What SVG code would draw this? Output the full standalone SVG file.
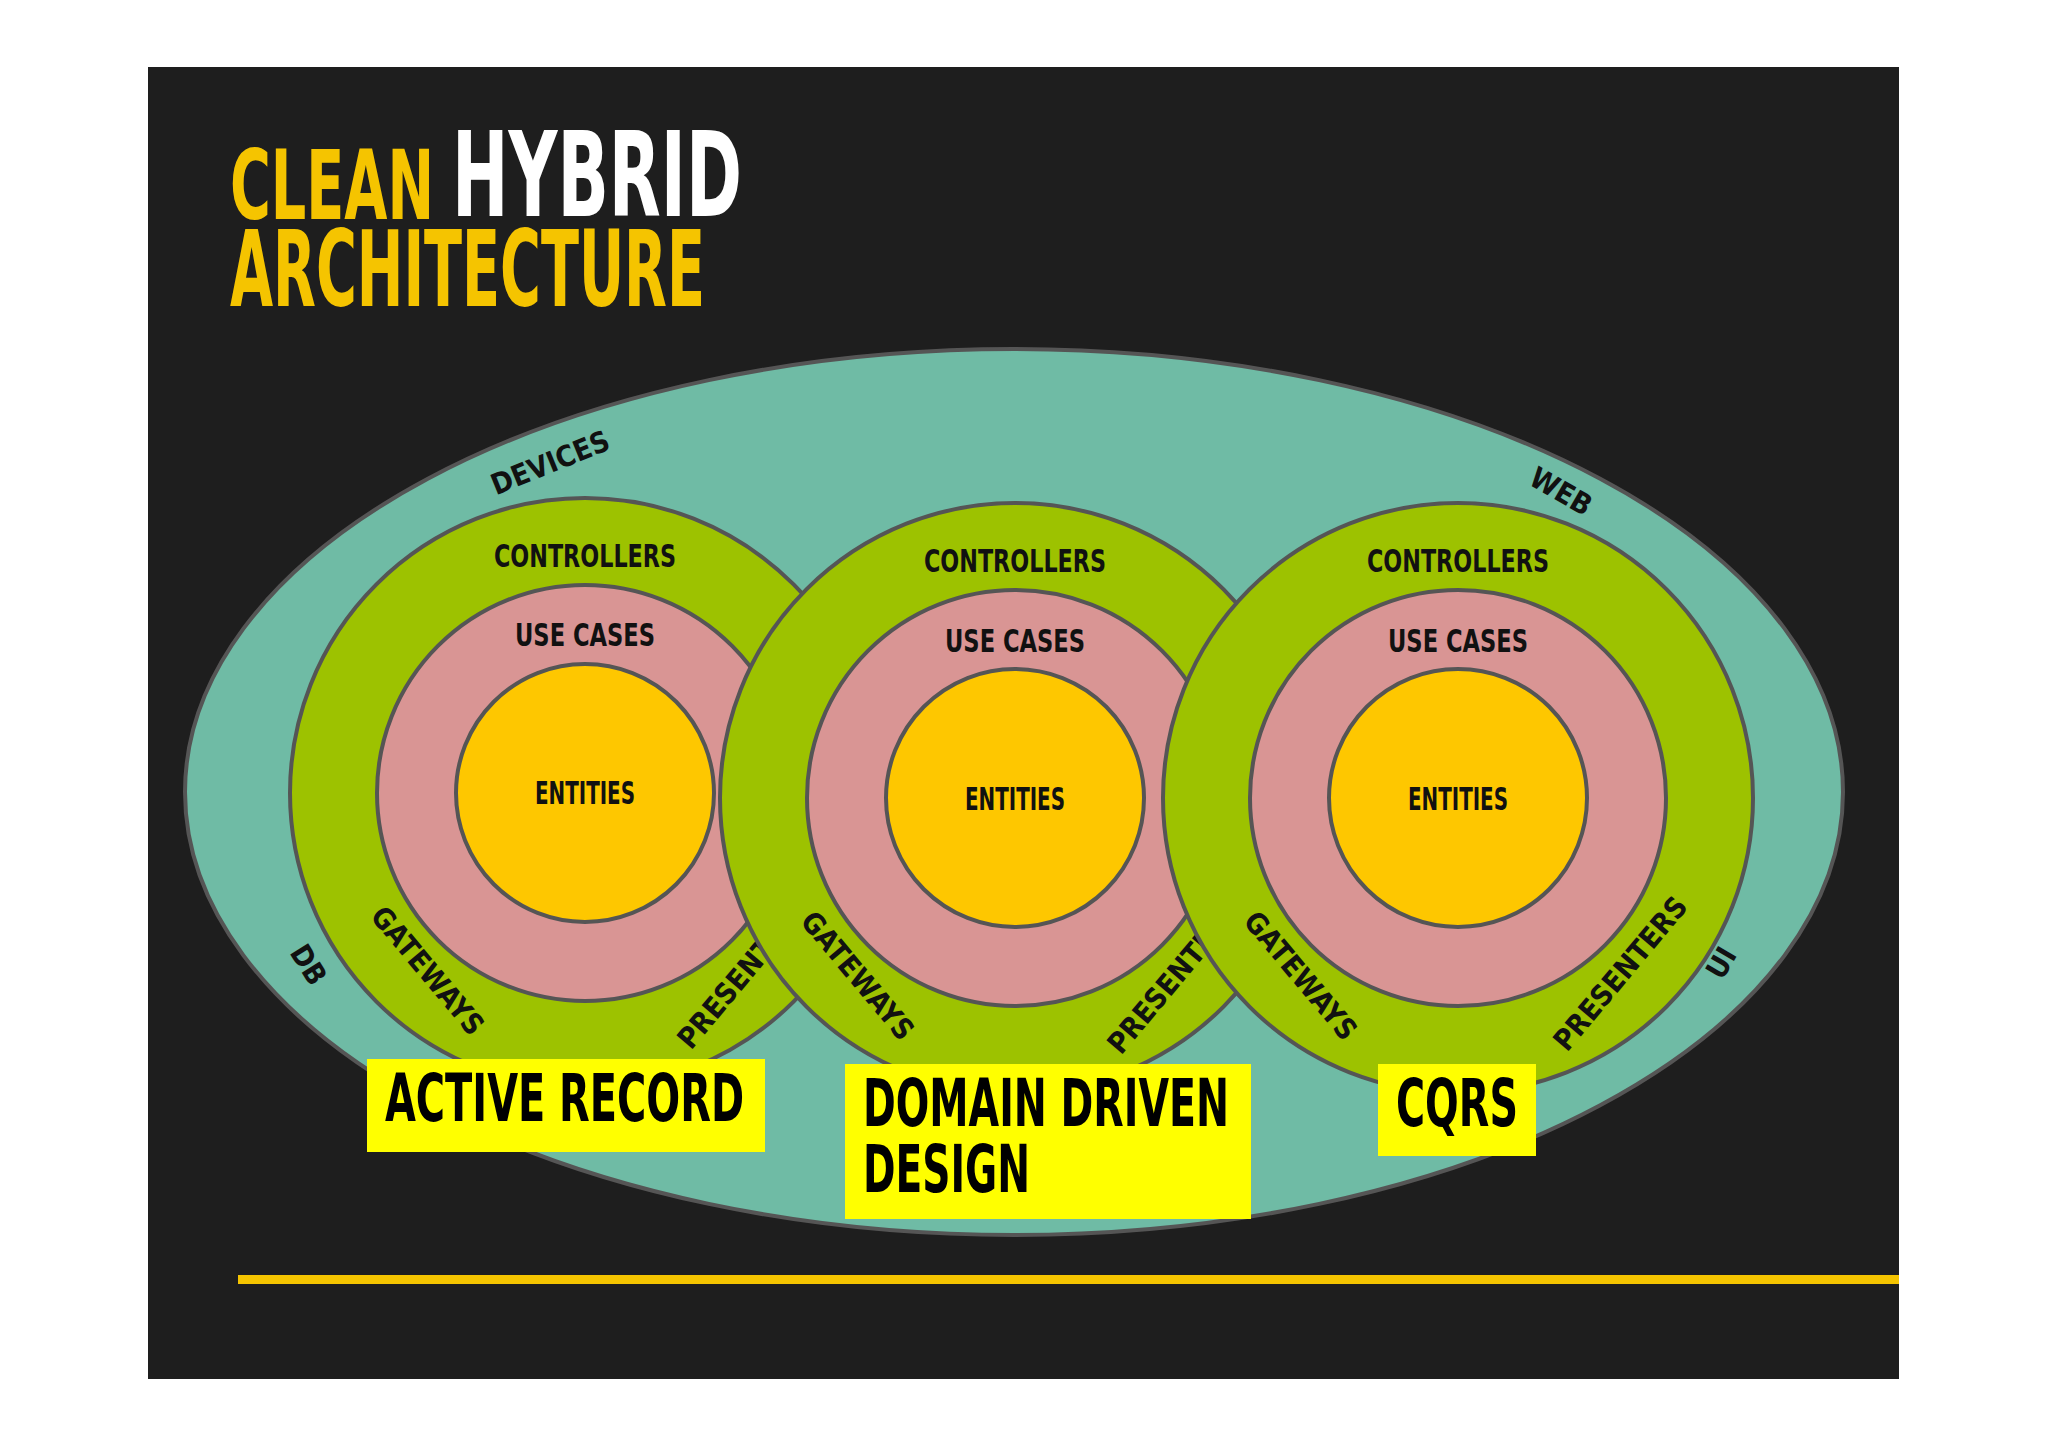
<svg xmlns="http://www.w3.org/2000/svg" width="2048" height="1447" viewBox="0 0 2048 1447">
<style>
text{font-family:"DejaVu Sans Condensed","Liberation Sans",sans-serif;font-weight:bold;}
.t{text-anchor:middle;fill:#111;font-size:32px}
.s{font-size:29px}
.r{stroke:#555;stroke-width:4}
.g{fill:#9dc200}.p{fill:#d99594}.y{fill:#fec700}
.lab{fill:#000;font-size:66px}
</style>
<rect width="2048" height="1447" fill="#fff"/>
<rect x="148" y="67" width="1751" height="1312" fill="#1e1e1e"/>
<text x="230" y="219" font-size="96" fill="#f5c400" textLength="204" lengthAdjust="spacingAndGlyphs">CLEAN</text>
<text x="452" y="216" font-size="118" fill="#fff" textLength="290" lengthAdjust="spacingAndGlyphs">HYBRID</text>
<text x="230" y="306" font-size="106" fill="#f5c400" textLength="475" lengthAdjust="spacingAndGlyphs">ARCHITECTURE</text>
<g id="outer">
<ellipse cx="1014" cy="792" rx="829" ry="443" fill="#6fbba5" class="r"/>
<text class="t s" transform="translate(554,472) rotate(-22)">DEVICES</text>
<text class="t s" transform="translate(1556,500) rotate(30)">WEB</text>
<text class="t s" transform="translate(300,970) rotate(58)">DB</text>
<text class="t s" transform="translate(1730,968) rotate(-60)">UI</text>
</g>
<g id="active">
<circle cx="585" cy="793" r="295" class="g r"/><circle cx="585" cy="793" r="208" class="p r"/><circle cx="585" cy="793" r="129" class="y r"/>
<text class="t" x="585" y="567" textLength="182" lengthAdjust="spacingAndGlyphs">CONTROLLERS</text>
<text class="t" x="585" y="646" textLength="140" lengthAdjust="spacingAndGlyphs">USE CASES</text>
<text class="t" x="585" y="804" textLength="100" lengthAdjust="spacingAndGlyphs">ENTITIES</text>
<text class="t s" transform="translate(420,977) rotate(50)">GATEWAYS</text>
<text class="t s" transform="translate(752,978) rotate(-50)">PRESENTERS</text>
</g>
<g id="ddd">
<circle cx="1015" cy="798" r="295" class="g r"/><circle cx="1015" cy="798" r="208" class="p r"/><circle cx="1015" cy="798" r="129" class="y r"/>
<text class="t" x="1015" y="572" textLength="182" lengthAdjust="spacingAndGlyphs">CONTROLLERS</text>
<text class="t" x="1015" y="652" textLength="140" lengthAdjust="spacingAndGlyphs">USE CASES</text>
<text class="t" x="1015" y="810" textLength="100" lengthAdjust="spacingAndGlyphs">ENTITIES</text>
<text class="t s" transform="translate(850,982) rotate(50)">GATEWAYS</text>
<text class="t s" transform="translate(1182,983) rotate(-50)">PRESENTERS</text>
</g>
<g id="cqrs">
<circle cx="1458" cy="798" r="295" class="g r"/><circle cx="1458" cy="798" r="208" class="p r"/><circle cx="1458" cy="798" r="129" class="y r"/>
<text class="t" x="1458" y="572" textLength="182" lengthAdjust="spacingAndGlyphs">CONTROLLERS</text>
<text class="t" x="1458" y="652" textLength="140" lengthAdjust="spacingAndGlyphs">USE CASES</text>
<text class="t" x="1458" y="810" textLength="100" lengthAdjust="spacingAndGlyphs">ENTITIES</text>
<text class="t s" transform="translate(1293,982) rotate(50)">GATEWAYS</text>
<text class="t s" transform="translate(1628,980) rotate(-50)">PRESENTERS</text>
</g>
<g id="labels">
<rect x="367" y="1059" width="398" height="93" fill="#ffff00"/>
<text class="lab" x="385" y="1121" textLength="359" lengthAdjust="spacingAndGlyphs">ACTIVE RECORD</text>
<rect x="845" y="1064" width="406" height="155" fill="#ffff00"/>
<text class="lab" x="863" y="1126" textLength="366" lengthAdjust="spacingAndGlyphs">DOMAIN DRIVEN</text>
<text class="lab" x="863" y="1192" textLength="167" lengthAdjust="spacingAndGlyphs">DESIGN</text>
<rect x="1378" y="1064" width="158" height="92" fill="#ffff00"/>
<text class="lab" x="1396" y="1126" textLength="122" lengthAdjust="spacingAndGlyphs">CQRS</text>
</g>
<g id="connectors"></g>
<rect x="238" y="1275" width="1661" height="9" fill="#f5c400"/>
</svg>
